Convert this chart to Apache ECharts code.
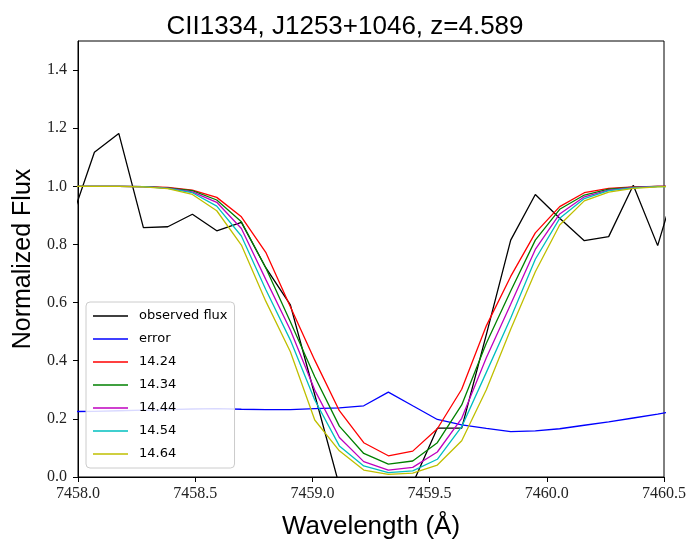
<!DOCTYPE html>
<html>
<head>
<meta charset="utf-8">
<script src="https://cdn.jsdelivr.net/npm/echarts@6/dist/echarts.min.js"></script>
<style>html,body{margin:0;padding:0;background:#fff}#c{width:690px;height:545px}</style>
</head>
<body>
<div id="c"></div>
<script>
const wavelength = [7457.965, 7458.070, 7458.174, 7458.279, 7458.383, 7458.488, 7458.592, 7458.697, 7458.801, 7458.906, 7459.010, 7459.115, 7459.219, 7459.324, 7459.428, 7459.533, 7459.637, 7459.742, 7459.846, 7459.951, 7460.055, 7460.160, 7460.264, 7460.369, 7460.473, 7460.578];
const observedFlux = [0.87, 1.117, 1.182, 0.858, 0.861, 0.904, 0.847, 0.876, 0.72, 0.592, 0.283, -0.03, -0.06, -0.04, -0.023, 0.168, 0.168, 0.49, 0.815, 0.972, 0.89, 0.813, 0.827, 1.004, 0.796, 1.08];
const errorFlux = [0.225, 0.226, 0.228, 0.23, 0.232, 0.234, 0.235, 0.233, 0.232, 0.232, 0.235, 0.238, 0.245, 0.292, 0.245, 0.198, 0.179, 0.167, 0.156, 0.159, 0.166, 0.178, 0.19, 0.203, 0.216, 0.232];
const model1424 = [1.0, 1.0, 1.0, 0.999, 0.996, 0.987, 0.962, 0.895, 0.773, 0.586, 0.402, 0.228, 0.118, 0.073, 0.089, 0.166, 0.302, 0.52, 0.69, 0.84, 0.93, 0.978, 0.993, 0.998, 1.0, 1.0];
const model1434 = [1.0, 1.0, 1.0, 0.999, 0.995, 0.985, 0.953, 0.878, 0.72, 0.534, 0.345, 0.175, 0.081, 0.044, 0.055, 0.118, 0.248, 0.46, 0.64, 0.815, 0.921, 0.970, 0.990, 0.997, 1.0, 1.0];
const model1444 = [1.0, 1.0, 1.0, 0.999, 0.994, 0.981, 0.945, 0.855, 0.68, 0.506, 0.299, 0.136, 0.053, 0.024, 0.033, 0.086, 0.202, 0.41, 0.594, 0.783, 0.905, 0.964, 0.987, 0.996, 1.0, 1.0];
const model1454 = [1.0, 1.0, 1.0, 0.999, 0.993, 0.978, 0.932, 0.829, 0.645, 0.471, 0.265, 0.107, 0.038, 0.015, 0.021, 0.061, 0.173, 0.36, 0.547, 0.749, 0.89, 0.958, 0.985, 0.995, 0.999, 1.0];
const model1464 = [1.0, 1.0, 1.0, 0.998, 0.992, 0.972, 0.916, 0.798, 0.605, 0.431, 0.196, 0.09, 0.024, 0.009, 0.013, 0.041, 0.125, 0.30, 0.508, 0.706, 0.867, 0.950, 0.98, 0.993, 0.998, 1.0];
const seriesNames = ['observed flux', 'error', '14.24', '14.34', '14.44', '14.54', '14.64'];
const seriesColors = ['#000000', '#0000ff', '#ff0000', '#008000', '#bf00bf', '#00bfbf', '#bfbf00'];
const yTicks = [0, 0.2, 0.4, 0.6, 0.8, 1.0, 1.2, 1.4];
const xTicks = [7458.0, 7458.5, 7459.0, 7459.5, 7460.0, 7460.5];

const allData = [observedFlux, errorFlux, model1424, model1434, model1444, model1454, model1464];
const series = allData.map((vals, i) => ({
  name: seriesNames[i],
  type: 'line',
  data: wavelength.map((w, j) => [w, vals[j]]),
  symbol: 'none',
  clip: true,
  lineStyle: { color: seriesColors[i], width: 1.3 },
  itemStyle: { color: seriesColors[i] },
  animation: false
}));

const chart = echarts.init(document.getElementById('c'), null, { renderer: 'canvas' });
chart.setOption({
  backgroundColor: '#ffffff',
  animation: false,
  title: {
    text: 'CII1334, J1253+1046, z=4.589',
    left: 'center',
    top: 9,
    textStyle: { fontFamily: 'Liberation Sans', fontSize: 26, fontWeight: 'normal', color: '#000', lineHeight: 26 }
  },
  grid: { left: 78, top: 41, width: 586, height: 436, show: true, borderColor: '#000', borderWidth: 1, backgroundColor: 'transparent' },
  xAxis: {
    type: 'value', min: 7458, max: 7460.5, interval: 0.5,
    name: 'Wavelength (Å)', nameLocation: 'middle', nameGap: 37,
    nameTextStyle: { fontFamily: 'Liberation Sans', fontSize: 26, color: '#000' },
    axisLine: { show: true, lineStyle: { color: '#000', width: 1 } },
    axisTick: { show: true, length: 5, lineStyle: { color: '#000' }, customValues: xTicks },
    axisLabel: { customValues: xTicks, margin: 9, fontFamily: 'Liberation Serif', fontSize: 16, color: '#222', formatter: v => v.toFixed(1) },
    splitLine: { show: false }
  },
  yAxis: {
    type: 'value', min: 0, max: 1.5, interval: 0.2,
    name: 'Normalized Flux', nameLocation: 'middle', nameGap: 40,
    nameTextStyle: { fontFamily: 'Liberation Sans', fontSize: 25, color: '#000' },
    axisLine: { show: true, lineStyle: { color: '#000', width: 1 } },
    axisTick: { show: true, length: 5, lineStyle: { color: '#000' }, customValues: yTicks },
    axisLabel: { customValues: yTicks, margin: 11, fontFamily: 'Liberation Serif', fontSize: 16, color: '#222', formatter: v => v.toFixed(1) },
    splitLine: { show: false }
  },
  legend: {
    orient: 'vertical',
    left: 86, top: 302,
    padding: [7, 7, 7, 7],
    itemWidth: 35, itemHeight: 14, itemGap: 9,
    backgroundColor: 'rgba(255,255,255,0.85)',
    borderColor: '#cccccc', borderWidth: 1, borderRadius: 4,
    textStyle: { fontFamily: 'DejaVu Sans', fontSize: 13, color: '#000', lineHeight: 14, padding: [0, 0, 0, 6] },
    data: seriesNames.map((n, i) => ({ name: n, icon: 'path://M0,0 L35,0 L35,1.3 L0,1.3 Z', itemStyle: { color: seriesColors[i] } }))
  },
  series: series
});
</script>
</body>
</html>
